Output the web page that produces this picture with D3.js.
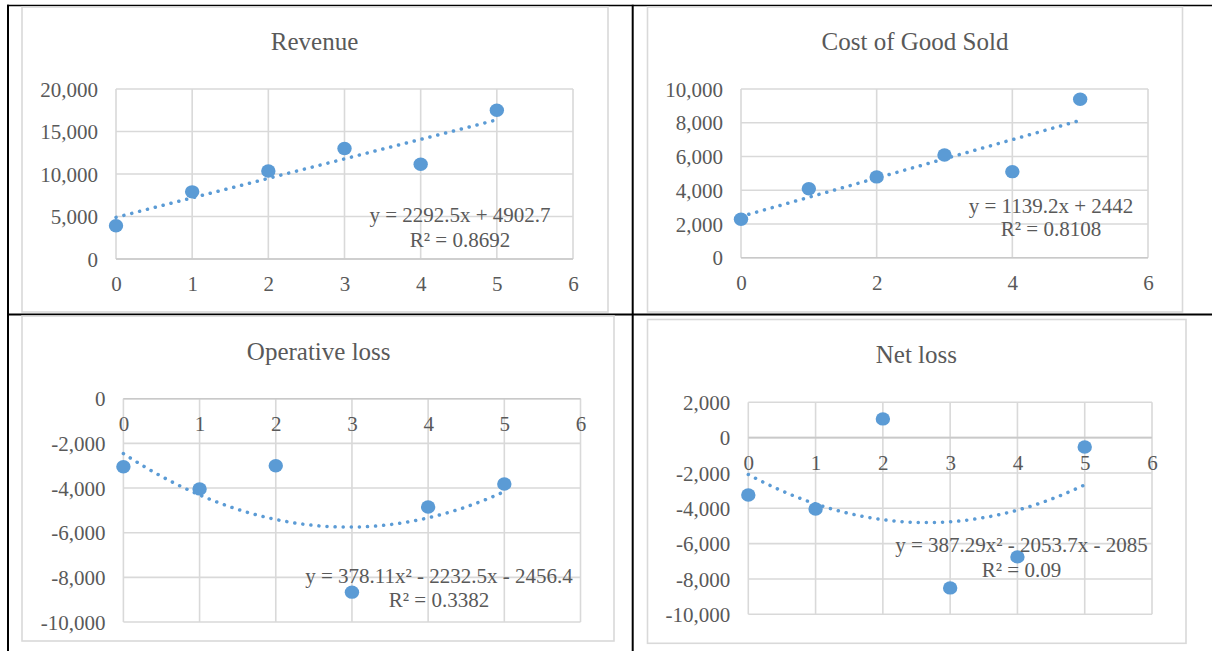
<!DOCTYPE html>
<html>
<head>
<meta charset="utf-8">
<script src="https://cdn.jsdelivr.net/npm/d3@7"></script>
<style>
  html, body { margin: 0; padding: 0; background: #ffffff; }
  svg { display: block; }
  svg text { font-family: "Liberation Serif", "Times New Roman", serif; }
</style>
</head>
<body>
<script>
// ---------------- DATA ----------------
const periods = [0, 1, 2, 3, 4, 5];

const revenue       = [3914, 7900, 10350, 13000, 11140, 17500];
const costGoodsSold = [2280, 4090, 4790, 6090, 5100, 9390];
const operativeLoss = [-3050, -4040, -3000, -8663, -4850, -3821];
const netLoss       = [-3248, -4040, 1060, -8507, -6750, -531];

const chartTitles = ["Revenue", "Cost of Good Sold", "Operative loss", "Net loss"];

const revenueYTicks = [0, 5000, 10000, 15000, 20000];
const cogsYTicks    = [0, 2000, 4000, 6000, 8000, 10000];
const opLossYTicks  = [-10000, -8000, -6000, -4000, -2000, 0];
const netLossYTicks = [-10000, -8000, -6000, -4000, -2000, 0, 2000];

const xTicksEvery1 = [0, 1, 2, 3, 4, 5, 6];
const xTicksEvery2 = [0, 2, 4, 6];

const trendDegrees = [1, 1, 2, 2];
const trendEquations = [
  ["y = 2292.5x + 4902.7", "R² = 0.8692"],
  ["y = 1139.2x + 2442", "R² = 0.8108"],
  ["y = 378.11x² - 2232.5x - 2456.4", "R² = 0.3382"],
  ["y = 387.29x² - 2053.7x - 2085", "R² = 0.09"]
];

// ---------------- LAYOUT ----------------
const panels = [
  { title: chartTitles[0], values: revenue, yTicks: revenueYTicks, xTicks: xTicksEvery1, deg: trendDegrees[0], eq: trendEquations[0],
    box: [22, 7, 608, 312], plot: [116, 89, 573, 259], titlePos: [314.5, 50], eqPos: [460, 222, 246.5] },
  { title: chartTitles[1], values: costGoodsSold, yTicks: cogsYTicks, xTicks: xTicksEvery2, deg: trendDegrees[1], eq: trendEquations[1],
    box: [647.5, 7, 1182.5, 312], plot: [741, 89, 1148, 257.7], titlePos: [915, 50], eqPos: [1051, 212.5, 236] },
  { title: chartTitles[2], values: operativeLoss, yTicks: opLossYTicks, xTicks: xTicksEvery1, deg: trendDegrees[2], eq: trendEquations[2],
    box: [22, 316, 614, 641], plot: [123.4, 398.7, 580.5, 622], titlePos: [318.7, 360], eqPos: [439, 582.7, 606.7] },
  { title: chartTitles[3], values: netLoss, yTicks: netLossYTicks, xTicks: xTicksEvery1, deg: trendDegrees[3], eq: trendEquations[3],
    box: [647.5, 319.5, 1186, 643.3], plot: [748.3, 402.3, 1152, 614.3], titlePos: [916.4, 363.3], eqPos: [1021.5, 552.3, 576.7] }
];

const BLUE = "#5b9bd5";
const GRID = "#d9d9d9";
const TEXT = "#595959";
const FONT = "Liberation Serif, Times New Roman, serif";

const fmt = d3.formatLocale({ decimal: ".", thousands: ",", grouping: [3], currency: ["", ""], minus: "-" }).format(",");

// least squares polynomial fit
function polyfit(xs, ys, deg) {
  const n = deg + 1;
  const A = Array.from({ length: n }, () => new Array(n + 1).fill(0));
  for (let r = 0; r < n; r++) {
    for (let c = 0; c < n; c++) A[r][c] = d3.sum(xs, x => Math.pow(x, r + c));
    A[r][n] = d3.sum(xs, (x, i) => ys[i] * Math.pow(x, r));
  }
  for (let i = 0; i < n; i++) {
    let p = i;
    for (let k = i + 1; k < n; k++) if (Math.abs(A[k][i]) > Math.abs(A[p][i])) p = k;
    [A[i], A[p]] = [A[p], A[i]];
    for (let k = 0; k < n; k++) {
      if (k === i) continue;
      const f = A[k][i] / A[i][i];
      for (let c = i; c <= n; c++) A[k][c] -= f * A[i][c];
    }
  }
  return A.map((row, i) => row[n] / row[i]);
}

const svg = d3.select("body").append("svg").attr("width", 1212).attr("height", 651);

// document table lines
const table = svg.append("g").attr("stroke", "#000").attr("fill", "none");
table.append("line").attr("x1", 7).attr("x2", 1212).attr("y1", 5.5).attr("y2", 5.5).attr("stroke-width", 1.6);
table.append("line").attr("x1", 7).attr("x2", 1212).attr("y1", 314.5).attr("y2", 314.5).attr("stroke-width", 2);
table.append("line").attr("x1", 8).attr("x2", 8).attr("y1", 4.7).attr("y2", 651).attr("stroke-width", 2);
table.append("line").attr("x1", 632.7).attr("x2", 632.7).attr("y1", 4.7).attr("y2", 651).attr("stroke-width", 2);

panels.forEach(p => {
  const g = svg.append("g");
  const [bx0, by0, bx1, by1] = p.box;
  const [px0, py0, px1, py1] = p.plot;

  g.append("rect").attr("x", bx0).attr("y", by0).attr("width", bx1 - bx0).attr("height", by1 - by0)
    .attr("fill", "#fff").attr("stroke", GRID).attr("stroke-width", 1.6);

  const x = d3.scaleLinear().domain([0, 6]).range([px0, px1]);
  const y = d3.scaleLinear().domain(d3.extent(p.yTicks)).range([py1, py0]);

  // gridlines
  const grid = g.append("g").attr("stroke", GRID).attr("stroke-width", 1.6);
  grid.selectAll(".h").data(p.yTicks).join("line")
    .attr("x1", px0).attr("x2", px1).attr("y1", d => y(d)).attr("y2", d => y(d));
  grid.selectAll(".v").data(p.xTicks).join("line")
    .attr("y1", py0).attr("y2", py1).attr("x1", d => x(d)).attr("x2", d => x(d));
  // horizontal axis line at 0
  g.append("line").attr("x1", px0).attr("x2", px1).attr("y1", y(0)).attr("y2", y(0))
    .attr("stroke", "#c9c9c9").attr("stroke-width", 1.6);

  // y axis labels
  const ya = g.append("g").attr("transform", `translate(${px0},0)`)
    .call(d3.axisLeft(y).tickValues(p.yTicks).tickFormat(fmt).tickSize(0).tickPadding(18));
  ya.select(".domain").remove();
  ya.attr("font-family", null).attr("font-size", 21).attr("color", TEXT);
  ya.selectAll("text").attr("dy", "0.34em").style("font-family", FONT).style("font-size", "21px");

  // x axis labels
  const xa = g.append("g").attr("transform", `translate(0,${y(0)})`)
    .call(d3.axisBottom(x).tickValues(p.xTicks).tickFormat(d3.format("d")).tickSize(0).tickPadding(17));
  xa.select(".domain").remove();
  xa.attr("font-family", null).attr("font-size", 21).attr("color", TEXT);
  xa.selectAll("text").style("font-family", FONT).style("font-size", "21px");

  // title
  g.append("text").attr("x", p.titlePos[0]).attr("y", p.titlePos[1])
    .attr("text-anchor", "middle").style("font-family", FONT).style("font-size", "25px")
    .attr("fill", TEXT).text(p.title);

  // trendline (least squares fit of the points)
  const coef = polyfit(periods, p.values, p.deg);
  const f = t => coef.reduce((s, c, i) => s + c * Math.pow(t, i), 0);
  const xs = d3.range(0, 5.0001, 0.05);
  g.append("path").datum(xs)
    .attr("d", d3.line().x(t => x(t)).y(t => y(f(t))))
    .attr("fill", "none").attr("stroke", BLUE).attr("stroke-width", 3.5)
    .attr("stroke-linecap", "round").attr("stroke-dasharray", "0.1 8");

  // points
  g.selectAll(".pt").data(periods).join("ellipse")
    .attr("cx", (d) => x(d)).attr("cy", (d, i) => y(p.values[i]))
    .attr("rx", 7.2).attr("ry", 6.7).attr("fill", BLUE);

  // equation label
  const eq = g.append("g").attr("fill", TEXT).attr("text-anchor", "middle");
  eq.append("text").attr("x", p.eqPos[0]).attr("y", p.eqPos[1]).style("font-family", FONT).style("font-size", "21px").text(p.eq[0]);
  eq.append("text").attr("x", p.eqPos[0]).attr("y", p.eqPos[2]).style("font-family", FONT).style("font-size", "21px").text(p.eq[1]);
});
</script>
</body>
</html>
